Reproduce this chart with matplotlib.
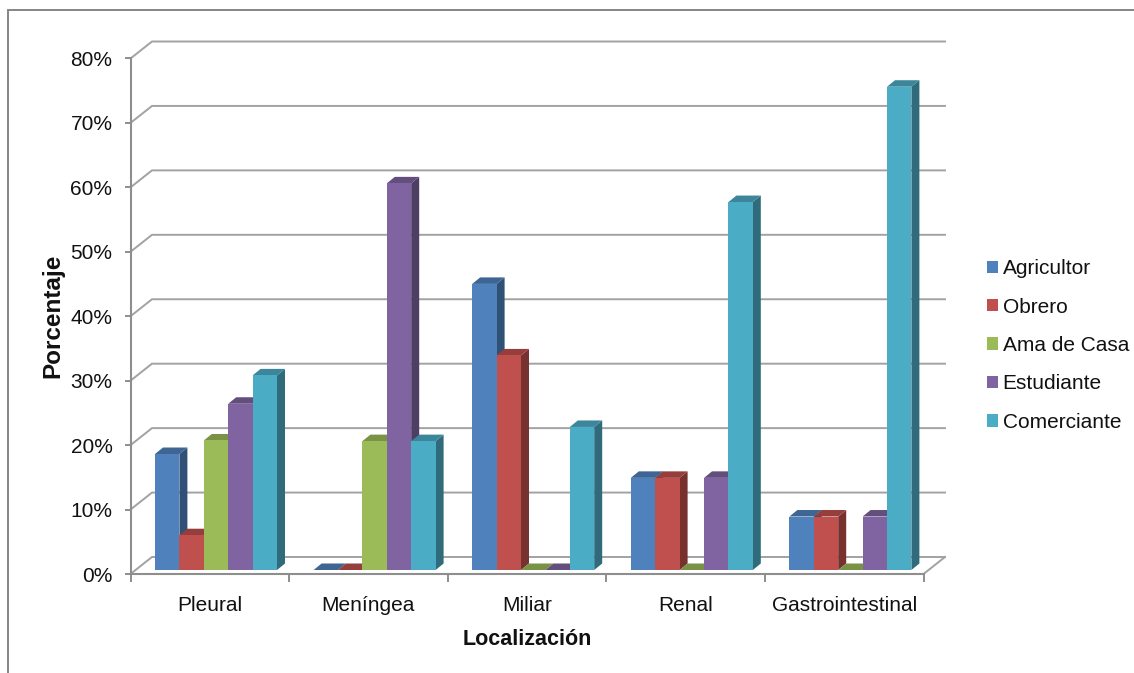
import matplotlib
matplotlib.use("Agg")
import matplotlib.pyplot as plt
from matplotlib.colors import to_rgb
from matplotlib.lines import Line2D
from matplotlib.patches import Patch
from matplotlib.ticker import FuncFormatter

plt.rcParams['font.family'] = ['Liberation Sans', 'DejaVu Sans']

categories = ["Pleural", "Meníngea", "Miliar", "Renal", "Gastrointestinal"]
agricultor = [18.0, 0, 44.4, 14.3, 8.3]
obrero = [5.4, 0, 33.3, 14.3, 8.3]
ama_de_casa = [20.1, 20.0, 0, 0, 0]
estudiante = [25.8, 60.0, 0, 14.3, 8.3]
comerciante = [30.2, 20.0, 22.2, 57.1, 75.0]

series_names = ["Agricultor", "Obrero", "Ama de Casa", "Estudiante", "Comerciante"]
series_values = [agricultor, obrero, ama_de_casa, estudiante, comerciante]
series_colors = ["#4F81BD", "#C0504D", "#9BBB59", "#8064A2", "#4BACC6"]
y_ticks = [0, 10, 20, 30, 40, 50, 60, 70, 80]

W, H = 1134, 673
LEFT, RIGHT, TOP, BOTTOM = 130.5, 923.5, 58.5, 574.0
GRID = "#a2a2a2"
AXIS = "#8e8e8e"
FS = 15

fig = plt.figure(figsize=(W / 100, H / 100), dpi=100, facecolor="white")
ax = fig.add_axes([LEFT / W, 1 - BOTTOM / H, (RIGHT - LEFT) / W, (BOTTOM - TOP) / H])
ax.set_xlim(0, len(categories))
ax.set_ylim(0, 80)
ax.patch.set_visible(False)

# Conversion of screen pixels into data units for the oblique projection
ux = len(categories) / (RIGHT - LEFT)
uy = 80 / (BOTTOM - TOP)

# Back wall and floor, shifted up and to the right of the front plane
wall_dx, wall_dy = 21.5 * ux, 17.0 * uy
for v in y_ticks:
    ax.plot([0, wall_dx, len(categories) + wall_dx], [v, v + wall_dy, v + wall_dy],
            color=GRID, lw=1.4, clip_on=False, zorder=1, solid_joinstyle="miter")
ax.plot([len(categories), len(categories) + wall_dx], [0, wall_dy],
        color=GRID, lw=1.4, clip_on=False, zorder=1)

# Bars with their shaded side and top faces
bar_w = 24.4 * ux
start = 24.5 * ux
base = 4.0 * uy
depth_x, depth_y = 8.0 * ux, 6.5 * uy
order = 2
for g in range(len(categories)):
    for s, values in enumerate(series_values):
        v = values[g]
        x0 = g + start + s * bar_w
        x1 = x0 + bar_w
        y0, y1 = base, base + v
        rgb = to_rgb(series_colors[s])
        side = tuple(c * 0.62 for c in rgb)
        top = tuple(c * 0.78 for c in rgb)
        if v > 0:
            ax.fill([x1, x1 + depth_x, x1 + depth_x, x1],
                    [y0, y0 + depth_y, y1 + depth_y, y1],
                    color=side, lw=0, clip_on=False, zorder=order)
        ax.fill([x0, x1, x1 + depth_x, x0 + depth_x],
                [y1, y1, y1 + depth_y, y1 + depth_y],
                color=top, lw=0, clip_on=False, zorder=order)
        ax.bar(x0, v, width=bar_w, bottom=base, align="edge", color=series_colors[s],
               lw=0, clip_on=False, zorder=order + 0.5)
        order += 1

for name in ("top", "right"):
    ax.spines[name].set_visible(False)
for name in ("left", "bottom"):
    ax.spines[name].set_color(AXIS)
    ax.spines[name].set_linewidth(1.5)
    ax.spines[name].set_zorder(1.5)

ax.set_yticks(y_ticks)
ax.yaxis.set_major_formatter(FuncFormatter(lambda v, _: f"{v:.0f}%"))
ax.tick_params(axis="y", length=4, width=1.4, color=AXIS, labelsize=FS, pad=9, labelcolor="#111111")
ax.set_xticks([i + 0.5 for i in range(len(categories))])
ax.set_xticklabels(categories)
ax.set_xticks(range(len(categories) + 1), minor=True)
ax.tick_params(axis="x", which="major", length=0, labelsize=FS, pad=16, labelcolor="#111111")
ax.tick_params(axis="x", which="minor", length=6, width=1.4, color=AXIS)

ax.set_xlabel("Localización", fontsize=15.5, fontweight="bold", labelpad=10, color="#111111")
ax.set_ylabel("Porcentaje", fontsize=17.5, fontweight="bold", color="#111111")
ax.yaxis.set_label_coords((64 - LEFT) / (RIGHT - LEFT), (BOTTOM - 316) / (BOTTOM - TOP))

handles = [Patch(facecolor=c, edgecolor="none", label=n) for c, n in zip(series_colors, series_names)]
fig.legend(handles=handles, loc="center left", bbox_to_anchor=(979 / W, 1 - 345.5 / H),
           frameon=False, fontsize=FS, labelspacing=0.934, handlelength=0.53, handleheight=0.53,
           handletextpad=0.2, borderpad=0.4, borderaxespad=0, labelcolor="#111111")

# Chart-area frame, open to the right and bottom edges of the image
fig.add_artist(Line2D([8 / W, 8 / W, 1], [0, 1 - 10 / H, 1 - 10 / H], transform=fig.transFigure,
                      color="#858585", lw=1.4, solid_joinstyle="miter"))

fig.savefig("out.png", dpi=100)
